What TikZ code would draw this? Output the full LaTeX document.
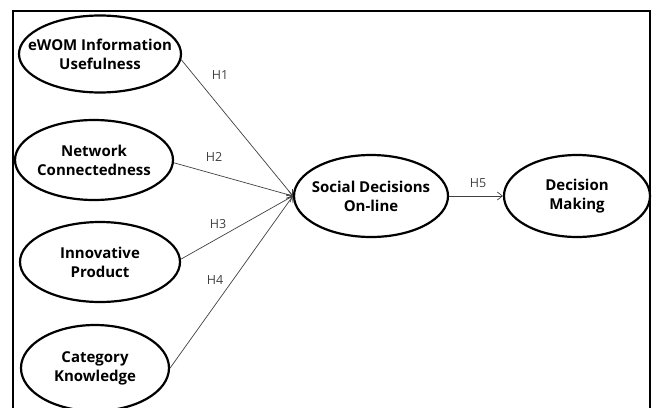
\documentclass[tikz,border=0pt]{standalone}
\usepackage{fontspec}
\setmainfont{Open Sans}
\usetikzlibrary{shapes.geometric,arrows.meta}
\begin{document}
\begin{tikzpicture}[x=1pt,y=-1pt,
  construct/.style={ellipse,draw=black,line width=2.2pt,inner xsep=-60pt,inner ysep=-20pt,align=center,
    font=\fontsize{15}{19}\selectfont\bfseries},
  path/.style={draw=black!75,line width=0.7pt,-{Straight Barb[length=5pt,width=8pt]}},
  hlab/.style={text=black!75,font=\fontsize{12.5}{14}\selectfont,inner sep=1pt}]
\useasboundingbox (0,0) rectangle (652,407);
\begin{scope}
\clip (0,0) rectangle (652,407);
\draw[line width=2pt] (13,410) -- (13,11) -- (650,11) -- (650,410);
\node[construct,minimum width=162pt,minimum height=77pt] (ewom) at (100,54) {eWOM Information\\Usefulness};
\node[construct,minimum width=158pt,minimum height=80pt] (net) at (94,160) {Network\\Connectedness};
\node[construct,minimum width=160pt,minimum height=80pt] (inn) at (100,262) {Innovative\\Product};
\node[construct,minimum width=148pt,minimum height=86pt] (cat) at (95,368) {Category\\Knowledge};
\node[construct,minimum width=154pt,minimum height=82pt] (soc) at (371,196) {Social Decisions\\On-line};
\node[construct,minimum width=146pt,minimum height=82pt] (dec) at (577,196) {Decision\\Making};
\draw[path] (ewom.-4) -- (soc.west);
\draw[path] (net.-2) -- (soc.west);
\draw[path] (inn.2) -- (soc.west);
\draw[path] (cat.east) -- (soc.west);
\draw[path] (soc.east) -- (dec.west);
\node[hlab] (h1) at (220,75) {H1};
\node[hlab] (h2) at (214,157) {H2};
\node[hlab] (h3) at (218,224) {H3};
\node[hlab] (h4) at (215,280) {H4};
\node[hlab] (h5) at (478,183) {H5};
\end{scope}
\end{tikzpicture}
\end{document}
